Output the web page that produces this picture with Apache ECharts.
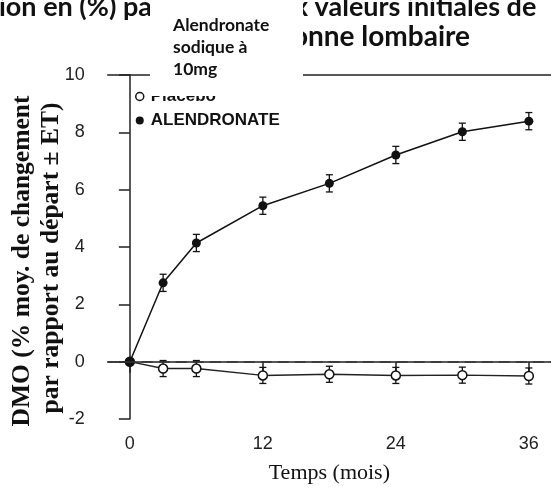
<!DOCTYPE html>
<html>
<head>
<meta charset="utf-8">
<script src="https://cdn.jsdelivr.net/npm/echarts@6/dist/echarts.min.js"></script>
<style>
html,body{margin:0;padding:0;background:#fff;}
#c{width:551px;height:489px;}
</style>
</head>
<body>
<div id="c"></div>
<script>
const months = [0, 3, 6, 12, 18, 24, 30, 36];
const alendronate = [0, 2.75, 4.14, 5.44, 6.22, 7.21, 8.02, 8.39];
const alendronateErr = [0, 0.3, 0.3, 0.3, 0.3, 0.3, 0.3, 0.3];
const placebo = [0, -0.24, -0.24, -0.48, -0.44, -0.48, -0.47, -0.5];
const placeboErr = [0, 0.28, 0.28, 0.28, 0.28, 0.28, 0.28, 0.28];
const xTicks = [0, 12, 24, 36];
const seriesNames = ['Placebo', 'ALENDRONATE'];
const titleLine1 = 'ion en (%) par rapport aux valeurs initiales de';
const titleLine2 = 'colonne lombaire';
const boxText = 'Alendronate\nsodique à\n10mg';
const yTitle1 = 'DMO (% moy. de changement';
const yTitle2 = 'par rapport au départ ± ET)';
const xTitle = 'Temps (mois)';

const chart = echarts.init(document.getElementById('c'), null, {renderer: 'canvas'});

function pairs(vals) { return months.map((m, i) => [m, vals[i]]); }
function errData(vals, errs) { return months.map((m, i) => [m, vals[i] - errs[i], vals[i] + errs[i]]).filter((d, i) => errs[i] > 0); }

function errRender(params, api) {
  const x = api.value(0);
  const lo = api.coord([x, api.value(1)]);
  const hi = api.coord([x, api.value(2)]);
  const w = 3.5;
  const style = {stroke: '#111', lineWidth: 1.3};
  return {
    type: 'group',
    children: [
      {type: 'line', shape: {x1: lo[0], y1: lo[1], x2: hi[0], y2: hi[1]}, style: style},
      {type: 'line', shape: {x1: lo[0] - w, y1: lo[1], x2: lo[0] + w, y2: lo[1]}, style: style},
      {type: 'line', shape: {x1: hi[0] - w, y1: hi[1], x2: hi[0] + w, y2: hi[1]}, style: style}
    ]
  };
}

const axisLineStyle = {color: '#222', width: 1.5};

chart.setOption({
  backgroundColor: '#fff',
  animation: false,
  grid: {left: 107.7, right: -3.5, top: 75, bottom: 68, containLabel: false},
  xAxis: [{
    type: 'value', min: -2, max: 38,
    axisLine: {show: true, lineStyle: axisLineStyle},
    axisTick: {show: true, inside: false, length: 11, customValues: xTicks, lineStyle: axisLineStyle},
    axisLabel: {show: true, customValues: xTicks, margin: 16, fontSize: 18, color: '#222', fontFamily: 'Liberation Sans'},
    splitLine: {show: false},
    name: xTitle, nameLocation: 'middle', nameGap: 43,
    nameTextStyle: {fontFamily: 'Liberation Serif', fontSize: 22, color: '#111'}
  }, {
    type: 'value', min: -2, max: 38, position: 'top',
    axisLine: {show: true, lineStyle: axisLineStyle},
    axisTick: {show: false}, axisLabel: {show: false}, splitLine: {show: false}
  }],
  yAxis: {
    type: 'value', min: -2, max: 10, interval: 2,
    axisLine: {show: true, lineStyle: axisLineStyle},
    axisTick: {show: true, inside: false, length: 11, lineStyle: axisLineStyle},
    axisLabel: {margin: 23, fontSize: 18, color: '#222', fontFamily: 'Liberation Sans'},
    splitLine: {show: false}
  },
  legend: {
    orient: 'vertical', left: 135, top: 88, padding: 0,
    itemWidth: 8, itemHeight: 8, itemGap: 7,
    textStyle: {fontFamily: 'Liberation Sans', fontWeight: 'bold', fontSize: 17, color: '#111', padding: [0, 0, 0, 2]},
    data: [
      {name: seriesNames[0], icon: 'circle', itemStyle: {color: '#fff', borderColor: '#111', borderWidth: 1.5}},
      {name: seriesNames[1], icon: 'circle', itemStyle: {color: '#111'}}
    ]
  },
  series: [
    {
      type: 'custom', name: 'errP', renderItem: errRender, data: errData(placebo, placeboErr), z: 2, silent: true
    },
    {
      type: 'custom', name: 'errA', renderItem: errRender, data: errData(alendronate, alendronateErr), z: 2, silent: true
    },
    {
      name: seriesNames[0], type: 'line', data: pairs(placebo), z: 3,
      symbol: 'circle', symbolSize: 9, showAllSymbol: true,
      lineStyle: {color: '#222', width: 1.4},
      itemStyle: {color: '#fff', borderColor: '#111', borderWidth: 1.5},
      markLine: {
        silent: true, symbol: ['none', 'none'], label: {show: false},
        lineStyle: {color: '#333', width: 1.5, type: [11, 6]},
        data: [[{coord: [-2, 0]}, {coord: [38, 0]}]]
      }
    },
    {
      name: seriesNames[1], type: 'line', data: pairs(alendronate), z: 4,
      symbol: 'circle', symbolSize: 9, showAllSymbol: true,
      lineStyle: {color: '#111', width: 1.5},
      itemStyle: {color: '#111'}
    }
  ],
  graphic: [
    {type: 'text', z: 50, x: -1, y: 7, style: {text: titleLine1, fontFamily: 'Lato', fontWeight: 'bold', fontSize: 27, fill: '#111', align: 'left', verticalAlign: 'middle'}},
    {type: 'text', z: 50, x: 470, y: 37, style: {text: titleLine2, fontFamily: 'Lato', fontWeight: 'bold', fontSize: 28, fill: '#111', align: 'right', verticalAlign: 'middle'}},
    {type: 'rect', z: 100, shape: {x: 150, y: 0, width: 153, height: 96}, style: {fill: '#fff'}},
    {type: 'text', z: 101, x: 173, y: 14, style: {text: boxText, fontFamily: 'Lato', fontWeight: 'bold', fontSize: 17.5, lineHeight: 22, fill: '#111'}},
    {type: 'text', z: 50, x: 22, y: 261, rotation: Math.PI / 2, style: {text: yTitle1, fontFamily: 'Liberation Serif', fontWeight: 'bold', fontSize: 25.5, fill: '#111', align: 'center', verticalAlign: 'middle'}},
    {type: 'text', z: 50, x: 51, y: 258, rotation: Math.PI / 2, style: {text: yTitle2, fontFamily: 'Liberation Serif', fontWeight: 'bold', fontSize: 25.5, fill: '#111', align: 'center', verticalAlign: 'middle'}}
  ]
});
</script>
</body>
</html>
